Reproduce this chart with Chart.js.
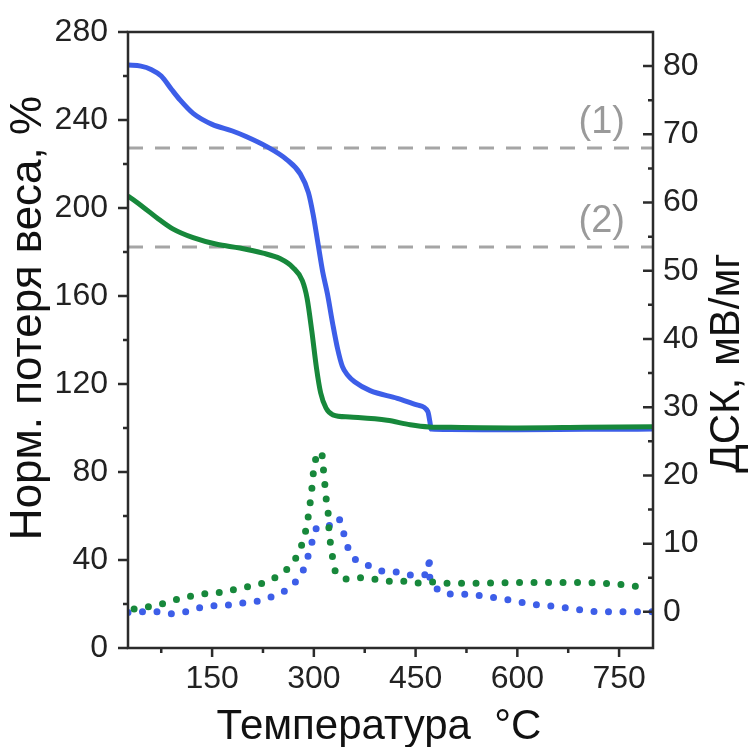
<!DOCTYPE html>
<html>
<head>
<meta charset="utf-8">
<script src="https://cdn.jsdelivr.net/npm/chart.js@4"></script>
<style>
  html, body { margin: 0; padding: 0; background: #fff; }
</style>
</head>
<body>
<canvas id="chart" width="749" height="747"></canvas>
<script>
// Ось X: температура, °C
const xMin = 26;
const xMax = 800;
const xTicks = [150, 300, 450, 600, 750];
const xMinorTicks = [75, 225, 375, 525, 675];

// Левая ось: норм. потеря веса, %
const leftTicks = [0, 40, 80, 120, 160, 200, 240, 280];
const leftMinorTicks = [20, 60, 100, 140, 180, 220, 260];

// Правая ось: ДСК, мВ/мг
const rightTicks = [0, 10, 20, 30, 40, 50, 60, 70, 80];
const rightMinorTicks = [5, 15, 25, 35, 45, 55, 65, 75];

// ТГА (сплошные линии)
const tgaBlueT = [26, 45, 60, 75, 90, 103, 122, 150, 180, 200, 230, 260, 280, 292, 299, 306, 313, 320, 328, 335, 342, 350, 360, 383, 423, 452, 468, 471, 473, 500, 600, 700, 800];
const tgaBlue  = [265, 264.5, 263, 260, 254, 249, 243, 238, 235, 232.5, 228, 222, 215.5, 207, 197, 184, 171, 161, 147, 136, 128, 124, 121, 117, 113.5, 110.5, 107.5, 103, 99.5, 99.3, 99.2, 99.4, 99.5];

const tgaGreenT = [26, 48, 73, 92, 122, 157, 191, 225, 250, 269, 283, 290, 297, 304, 310, 318, 328, 353, 408, 442, 470, 500, 600, 700, 800];
const tgaGreen  = [205.5, 200.5, 194.5, 190.5, 186.5, 183.5, 181.8, 179.5, 177, 173, 167, 159, 144, 127, 116, 109, 106, 105, 103.5, 101.5, 100.5, 100.3, 100, 100.3, 100.6];

// ДСК (пунктир)
const dscBlueT = [26, 48, 69, 91, 111, 132, 153, 174, 194, 215, 235, 255, 271, 284, 291, 297, 302, 310, 321, 330, 337, 343, 349, 356, 367, 378, 400, 419, 440, 462, 469, 470, 471, 476, 495, 515, 537, 558, 579, 601, 621, 643, 664, 686, 707, 725, 800];
const dscBlue  = [-0.1, 0, 0, -0.3, 0, 0.6, 0.9, 1.0, 1.3, 1.5, 2.1, 2.9, 4.1, 6.0, 8.0, 10.1, 12.1, 12.6, 12.5, 13.2, 13.8, 11.9, 9.7, 8.1, 7.2, 6.9, 6.0, 5.9, 5.4, 5.4, 5.5, 8.2, 5.0, 3.7, 2.6, 2.6, 2.5, 2.2, 1.9, 1.5, 1.1, 0.9, 0.7, 0.4, 0.1, 0, 0];

const dscGreenT = [35, 46, 66, 88, 107, 129, 150, 170, 190, 210, 231, 250, 266, 278, 285, 290, 293, 296, 298, 300, 305, 312, 314, 316, 318, 321, 322, 324, 327, 330, 340, 348, 368, 389, 410, 431, 452, 474, 496, 537, 600, 650, 700, 725, 746, 766, 790];
const dscGreen  = [0.4, 0.6, 0.9, 1.5, 2.1, 2.5, 2.8, 2.9, 3.5, 3.8, 4.4, 5.4, 6.7, 8.6, 10.7, 12.7, 14.9, 17, 19, 21.2, 23.4, 23.2, 21, 18.9, 16.7, 14.6, 12.5, 10.4, 8.4, 6.2, 5.0, 4.8, 5.0, 4.8, 4.5, 4.5, 4.2, 4.4, 4.2, 4.2, 4.3, 4.3, 4.3, 4.2, 4.1, 3.8, 3.6];

// Уровни штриховых линий (по левой оси) и подписи
const refLevels = [227.3, 182.3];
const refLabels = ['(1)', '(2)'];

const blue = '#3d5ee8';
const green = '#17883b';
const fontFamily = '"Liberation Sans", Arial, sans-serif';

function toPoints(ts, vs) {
  return ts.map((t, i) => ({ x: t, y: vs[i] }));
}

const refDatasets = refLevels.map((level) => ({
  data: [{ x: xMin, y: level }, { x: xMax, y: level }],
  yAxisID: 'y',
  borderColor: '#a5a5a5',
  borderWidth: 3,
  borderDash: [15, 12],
  pointRadius: 0,
  order: 10,
}));

// Рамка, засечки, подписи осей
const framePlugin = {
  id: 'frame',
  afterDatasetsDraw(chart) {
    const { ctx, chartArea: a, scales } = chart;
    ctx.save();
    ctx.strokeStyle = '#2b2b2b';
    ctx.lineWidth = 2.5;
    ctx.strokeRect(a.left, a.top, a.right - a.left, a.bottom - a.top);
    ctx.beginPath();
    xTicks.forEach((v) => {
      const p = scales.x.getPixelForValue(v);
      ctx.moveTo(p, a.bottom); ctx.lineTo(p, a.bottom + 9);
    });
    xMinorTicks.forEach((v) => {
      const p = scales.x.getPixelForValue(v);
      ctx.moveTo(p, a.bottom); ctx.lineTo(p, a.bottom + 5);
    });
    leftTicks.forEach((v) => {
      const p = scales.y.getPixelForValue(v);
      ctx.moveTo(a.left, p); ctx.lineTo(a.left - 10, p);
    });
    leftMinorTicks.forEach((v) => {
      const p = scales.y.getPixelForValue(v);
      ctx.moveTo(a.left, p); ctx.lineTo(a.left - 5, p);
    });
    rightTicks.forEach((v) => {
      const p = scales.y1.getPixelForValue(v);
      ctx.moveTo(a.right, p); ctx.lineTo(a.right - 10, p);
    });
    rightMinorTicks.forEach((v) => {
      const p = scales.y1.getPixelForValue(v);
      ctx.moveTo(a.right, p); ctx.lineTo(a.right - 5, p);
    });
    ctx.stroke();
    ctx.restore();
  },
  afterDraw(chart) {
    const { ctx, chartArea: a, scales } = chart;
    ctx.save();
    ctx.textAlign = 'center';
    ctx.textBaseline = 'middle';
    ctx.fillStyle = '#111';

    ctx.font = '42px ' + fontFamily;
    ctx.fillText('Температура  °C', 379, 727);

    ctx.save();
    ctx.translate(29, 318);
    ctx.rotate(-Math.PI / 2);
    ctx.font = '44px ' + fontFamily;
    ctx.fillText('Норм. потеря веса, %', 0, 0);
    ctx.restore();

    ctx.save();
    ctx.translate(727, 363);
    ctx.rotate(-Math.PI / 2);
    ctx.font = '42px ' + fontFamily;
    ctx.fillText('ДСК, мВ/мг', 0, 0);
    ctx.restore();

    // (1), (2) над штриховыми линиями
    ctx.fillStyle = '#9a9a9a';
    ctx.textAlign = 'right';
    ctx.font = '38px ' + fontFamily;
    refLevels.forEach((level, i) => {
      const p = scales.y.getPixelForValue(level);
      ctx.fillText(refLabels[i], a.right - 28, p - 25);
    });
    ctx.restore();
  },
};

const tickFont = { family: fontFamily, size: 32 };

// убираем внутренние отступы шкал, чтобы область графика стояла там же, где в оригинале
function fixVertical(width) {
  return (s) => {
    s.width = width;
    s.paddingTop = 0;
    s.paddingBottom = 0;
  };
}

new Chart(document.getElementById('chart'), {
  type: 'line',
  data: {
    datasets: [
      ...refDatasets,
      {
        data: toPoints(tgaBlueT, tgaBlue),
        yAxisID: 'y',
        borderColor: blue,
        borderWidth: 5,
        pointRadius: 0,
        cubicInterpolationMode: 'monotone',
        order: 4,
      },
      {
        data: toPoints(tgaGreenT, tgaGreen),
        yAxisID: 'y',
        borderColor: green,
        borderWidth: 5,
        pointRadius: 0,
        cubicInterpolationMode: 'monotone',
        order: 3,
      },
      {
        data: toPoints(dscBlueT, dscBlue),
        yAxisID: 'y1',
        borderColor: blue,
        borderWidth: 7,
        borderDash: [0, 14.5],
        borderCapStyle: 'round',
        pointRadius: 0,
        tension: 0,
        order: 2,
      },
      {
        data: toPoints(dscGreenT, dscGreen),
        yAxisID: 'y1',
        borderColor: green,
        borderWidth: 7,
        borderDash: [0, 14.5],
        borderCapStyle: 'round',
        pointRadius: 0,
        tension: 0,
        order: 1,
      },
    ],
  },
  options: {
    responsive: false,
    animation: false,
    layout: { padding: { top: 32, left: 0, right: 0, bottom: 0 } },
    plugins: { legend: { display: false }, tooltip: { enabled: false } },
    scales: {
      x: {
        type: 'linear',
        position: 'bottom',
        min: xMin,
        max: xMax,
        grid: { display: false, drawTicks: false },
        border: { display: false },
        ticks: { font: tickFont, color: '#222', padding: 12, maxRotation: 0, autoSkip: false },
        afterBuildTicks: (s) => { s.ticks = xTicks.map((v) => ({ value: v })); },
        afterFit: (s) => {
          s.height = 99;
          s.paddingLeft = 0;
          s.paddingRight = 0;
        },
      },
      y: {
        type: 'linear',
        position: 'left',
        min: 0,
        max: 280,
        grid: { display: false, drawTicks: false },
        border: { display: false },
        ticks: { font: tickFont, color: '#222', padding: 20, autoSkip: false },
        afterBuildTicks: (s) => { s.ticks = leftTicks.map((v) => ({ value: v })); },
        afterFit: fixVertical(128),
      },
      y1: {
        type: 'linear',
        position: 'right',
        min: -5.3,
        max: 85,
        grid: { display: false, drawTicks: false },
        border: { display: false },
        ticks: { font: tickFont, color: '#222', padding: 10, autoSkip: false },
        afterBuildTicks: (s) => { s.ticks = rightTicks.map((v) => ({ value: v })); },
        afterFit: fixVertical(96),
      },
    },
  },
  plugins: [framePlugin],
});
</script>
</body>
</html>
